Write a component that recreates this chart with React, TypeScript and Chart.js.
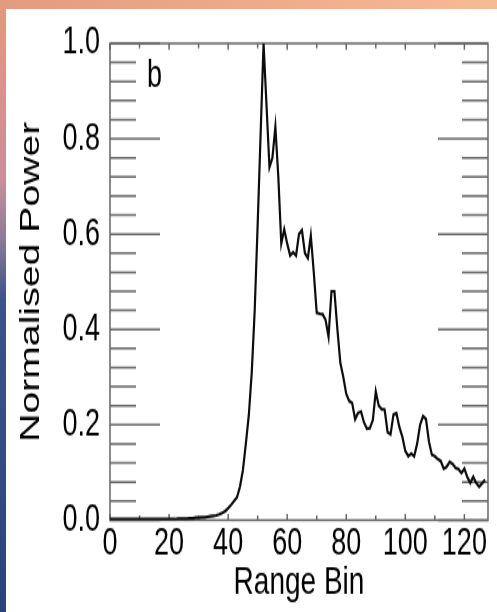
import React, { useEffect, useRef } from "react";
import { Chart, registerables } from "chart.js";

Chart.register(...registerables);

// ---- data ----
const rangeBins: number[] = [
  0, 1, 2, 3, 4, 5, 6, 7, 8, 9, 10, 11, 12, 13, 14, 15, 16, 17, 18, 19,
  20, 21, 22, 23, 24, 25, 26, 27, 28, 29, 30, 31, 32, 33, 34, 35, 36, 37, 38, 39,
  40, 41, 42, 43, 44, 45, 46, 47, 48, 49, 50, 51, 52, 53, 54, 55, 56, 57, 58, 59,
  60, 61, 62, 63, 64, 65, 66, 67, 68, 69, 70, 71, 72, 73, 74, 75, 76, 77, 78, 79,
  80, 81, 82, 83, 84, 85, 86, 87, 88, 89, 90, 91, 92, 93, 94, 95, 96, 97, 98, 99,
  100, 101, 102, 103, 104, 105, 106, 107, 108, 109, 110, 111, 112, 113, 114, 115, 116, 117, 118, 119,
  120, 121, 122, 123, 124, 125, 126, 127,
];

const normalisedPower: number[] = [
  0.002, 0.002, 0.002, 0.002, 0.002, 0.002, 0.002, 0.002, 0.002, 0.002,
  0.002, 0.002, 0.002, 0.002, 0.002, 0.002, 0.002, 0.002, 0.002, 0.002,
  0.002, 0.002, 0.002, 0.003, 0.003, 0.003, 0.003, 0.004, 0.004, 0.005,
  0.005, 0.006, 0.006, 0.007, 0.008, 0.009, 0.010, 0.012, 0.015, 0.019,
  0.025, 0.032, 0.040, 0.048, 0.070, 0.105, 0.160, 0.220, 0.310, 0.440,
  0.620, 0.810, 1.000, 0.870, 0.740, 0.760, 0.825, 0.720, 0.580, 0.610,
  0.580, 0.555, 0.562, 0.555, 0.600, 0.608, 0.560, 0.550, 0.597, 0.520,
  0.435, 0.433, 0.432, 0.420, 0.385, 0.480, 0.480, 0.400, 0.330, 0.300,
  0.265, 0.250, 0.246, 0.212, 0.225, 0.228, 0.205, 0.192, 0.193, 0.210,
  0.270, 0.240, 0.233, 0.232, 0.185, 0.180, 0.222, 0.224, 0.195, 0.175,
  0.145, 0.134, 0.140, 0.134, 0.160, 0.200, 0.218, 0.212, 0.165, 0.137,
  0.134, 0.128, 0.124, 0.108, 0.112, 0.122, 0.118, 0.110, 0.107, 0.099,
  0.108, 0.090, 0.078, 0.091, 0.078, 0.070, 0.077, 0.085,
];

const xTickValues: number[] = [0, 20, 40, 60, 80, 100, 120];
const xTickLabels: string[] = ["0", "20", "40", "60", "80", "100", "120"];
const xMinorTickValues: number[] = [
  0, 10, 20, 30, 40, 50, 60, 70, 80, 90, 100, 110, 120,
];
const yTickValues: number[] = [0, 0.2, 0.4, 0.6, 0.8, 1.0];
const yTickLabels: string[] = ["0.0", "0.2", "0.4", "0.6", "0.8", "1.0"];
const yMinorTickValues: number[] = [
  0, 0.04, 0.08, 0.12, 0.16, 0.2, 0.24, 0.28, 0.32, 0.36, 0.4, 0.44, 0.48,
  0.52, 0.56, 0.6, 0.64, 0.68, 0.72, 0.76, 0.8, 0.84, 0.88, 0.92, 0.96, 1.0,
];
const panelLabel = "b";
const xTitle = "Range Bin";
const yTitle = "Normalised Power";

// ---- layout ----
const W = 497;
const H = 612;
const STRETCH = 1.4;
const CH = Math.round(H / STRETCH); // canvas height before vertical stretch
const FONT_FAMILY = "'Liberation Sans', Arial, Helvetica, sans-serif";
const TEXT_COLOR = "#000000";
const FRAME_COLOR = "#666666";

const frameTicksPlugin = {
  id: "frameTicks",
  beforeDatasetsDraw(chart: any) {
    const { ctx, chartArea: a, scales } = chart;
    const x = scales.x;
    const y = scales.y;
    ctx.save();
    ctx.strokeStyle = FRAME_COLOR;
    ctx.lineWidth = 1.5;
    ctx.strokeRect(a.left, a.top, a.right - a.left, a.bottom - a.top);
    ctx.beginPath();
    yMinorTickValues.forEach((v) => {
      const py = y.getPixelForValue(v);
      const major = yTickValues.some((m) => Math.abs(m - v) < 1e-9);
      const len = major ? 50 : 26;
      ctx.moveTo(a.left, py);
      ctx.lineTo(a.left + len, py);
      ctx.moveTo(a.right - len, py);
      ctx.lineTo(a.right, py);
    });
    xMinorTickValues.forEach((v) => {
      const px = x.getPixelForValue(v);
      const major = xTickValues.includes(v);
      const len = major ? 4.5 : 3.5;
      ctx.moveTo(px, a.bottom);
      ctx.lineTo(px, a.bottom - len);
      ctx.moveTo(px, a.top);
      ctx.lineTo(px, a.top + len);
    });
    ctx.stroke();
    ctx.restore();
  },
  afterDraw(chart: any) {
    const { ctx, chartArea: a } = chart;
    ctx.save();
    ctx.fillStyle = TEXT_COLOR;
    ctx.font = `27px ${FONT_FAMILY}`;
    ctx.textAlign = "left";
    ctx.textBaseline = "alphabetic";
    ctx.fillText(panelLabel, a.left + 37, a.top + 31);
    ctx.restore();
  },
};

export default function App() {
  const canvasRef = useRef<HTMLCanvasElement | null>(null);

  useEffect(() => {
    const canvas = canvasRef.current;
    if (!canvas) return;
    const tickFont = { family: FONT_FAMILY, size: 27 };
    const titleFont = { family: FONT_FAMILY, size: 28 };
    const chart = new Chart(canvas, {
      type: "line",
      data: {
        datasets: [
          {
            label: yTitle,
            data: rangeBins.map((b, i) => ({ x: b, y: normalisedPower[i] })),
            borderColor: "#0d0d0d",
            borderWidth: 2.2,
            pointRadius: 0,
            tension: 0,
            fill: false,
          },
        ],
      },
      options: {
        responsive: false,
        animation: false,
        devicePixelRatio: 1,
        layout: { padding: { top: 31, right: 9, left: 0, bottom: 0 } },
        plugins: {
          legend: { display: false },
          tooltip: { enabled: false },
        },
        scales: {
          x: {
            type: "linear",
            min: 0,
            max: 128,
            afterBuildTicks: (s: any) => {
              s.ticks = xTickValues.map((value) => ({ value }));
            },
            afterFit: (s: any) => {
              s.height = CH - 371.4;
            },
            ticks: {
              autoSkip: false,
              maxRotation: 0,
              padding: 1,
              color: TEXT_COLOR,
              font: tickFont,
              callback: (v: any) => xTickLabels[xTickValues.indexOf(Number(v))] ?? "",
            },
            grid: { display: false, drawTicks: false },
            border: { display: false },
            title: {
              display: true,
              text: xTitle,
              color: TEXT_COLOR,
              font: titleFont,
              padding: { top: 0, bottom: 4 },
            },
          },
          y: {
            type: "linear",
            min: 0,
            max: 1,
            afterBuildTicks: (s: any) => {
              s.ticks = yTickValues.map((value) => ({ value }));
            },
            afterFit: (s: any) => {
              s.width = 110;
            },
            ticks: {
              padding: 10,
              color: TEXT_COLOR,
              font: tickFont,
              callback: (v: any) => {
                const i = yTickValues.findIndex((t) => Math.abs(t - Number(v)) < 1e-9);
                return i >= 0 ? yTickLabels[i] : "";
              },
            },
            grid: { display: false, drawTicks: false },
            border: { display: false },
            title: {
              display: true,
              text: yTitle,
              color: TEXT_COLOR,
              font: titleFont,
              padding: { top: 14, bottom: 0 },
            },
          },
        },
      },
      plugins: [frameTicksPlugin],
    } as any);
    return () => chart.destroy();
  }, []);

  return (
    <>
      <div
        style={{
          position: "fixed",
          left: 0,
          top: 0,
          width: W,
          height: H,
          background:
            "linear-gradient(to bottom, #e29a80 0px, #dc9488 60px, #c8909a 180px, #8a7a98 240px, #3c5486 300px, #2c4376 612px)",
        }}
      />
      <div
        style={{
          position: "fixed",
          left: 0,
          top: 0,
          width: W,
          height: 9,
          background: "linear-gradient(to right, #e39b80, #f0ad8c 60%, #f6bb95)",
        }}
      />
      <div
        style={{
          position: "fixed",
          left: 6,
          top: 9,
          width: W - 6,
          height: H - 9,
          background: "#ffffff",
        }}
      />
      <div
        style={{
          position: "fixed",
          left: 0,
          top: 0,
          width: W,
          height: CH,
          transform: `scaleY(${H / CH})`,
          transformOrigin: "0 0",
        }}
      >
        <canvas ref={canvasRef} width={W} height={CH} style={{ width: W, height: CH }} />
      </div>
    </>
  );
}
